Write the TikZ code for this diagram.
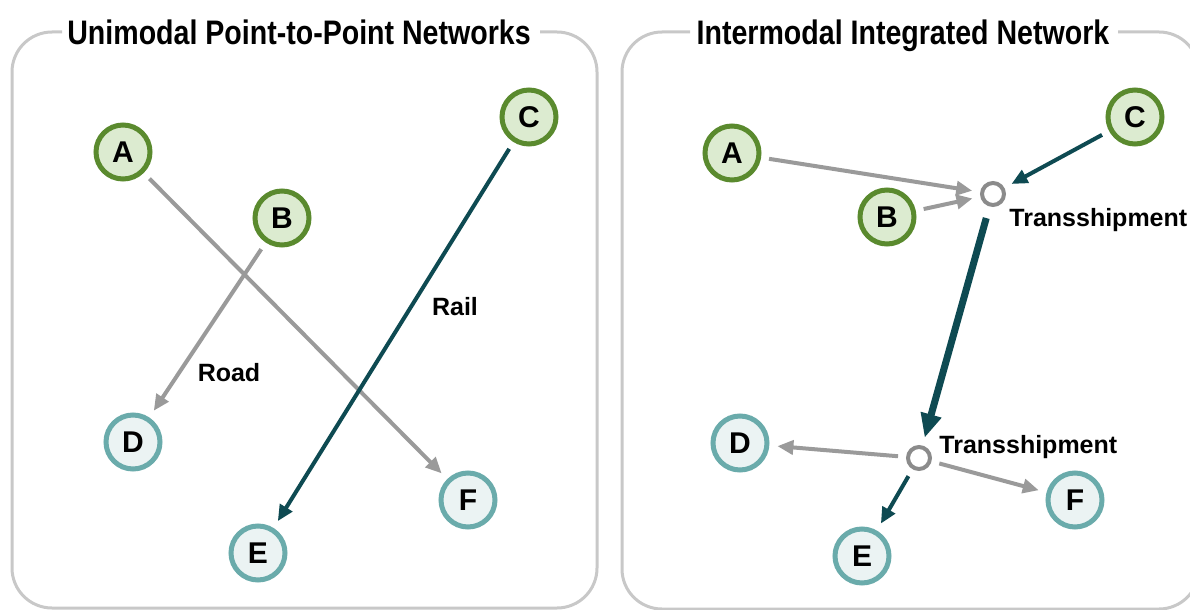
\documentclass[tikz,border=0pt]{standalone}
\usepackage{fontspec}
\setmainfont{Liberation Sans}
\newfontfamily\ttlfont{Liberation Sans}[FakeStretch=0.84]
\usetikzlibrary{arrows.meta}
\definecolor{grn}{HTML}{5A8A2E}
\definecolor{grnfill}{HTML}{DCEBD0}
\definecolor{tl}{HTML}{6AABAB}
\definecolor{tlfill}{HTML}{EBF3F3}
\definecolor{dk}{HTML}{0E4A52}
\definecolor{gl}{HTML}{9A9A9A}
\definecolor{frame}{HTML}{C8C8C8}
\tikzset{
  src/.style={circle,draw=grn,fill=grnfill,line width=2.5pt,minimum size=27pt,inner sep=0pt,font=\bfseries\fontsize{15}{16}\selectfont},
  dst/.style={circle,draw=tl,fill=tlfill,line width=2.5pt,minimum size=27pt,inner sep=0pt,font=\bfseries\fontsize{15}{16}\selectfont},
  hub/.style={circle,draw=gl!90!black,fill=white,line width=2pt,minimum size=11pt,inner sep=0pt},
  road/.style={draw=gl,line width=2pt,-{Triangle[length=8pt,width=7pt]},shorten <=4pt,shorten >=4pt},
  rail/.style={draw=dk,line width=2pt,-{Triangle[length=8pt,width=7pt]},shorten <=4pt,shorten >=4pt},
  bigrail/.style={draw=dk,line width=3.5pt,-{Triangle[length=12pt,width=10pt]},shorten <=6pt,shorten >=4pt},
  panel/.style={draw=frame,line width=1.5pt},
  ttl/.style={font=\ttlfont\bfseries\fontsize{17}{18}\selectfont,inner sep=0pt,anchor=base},
  lbl/.style={font=\bfseries\fontsize{12.5}{14}\selectfont,inner sep=0pt}
}
\begin{document}
\begin{tikzpicture}[x=0.5pt,y=-0.5pt]
\useasboundingbox[fill=white] (0,0) rectangle (1190,610);
\clip (0,0) rectangle (1190,610);
% panels
\draw[panel,rounded corners=20pt] (62,32) -- (12,32) -- (12,608) -- (597,608) -- (597,32) -- (540,32);
\draw[panel,rounded corners=20pt] (690,32) -- (622,32) -- (622,609) -- (1199,609) -- (1199,32) -- (1118,32);
\node[ttl] (t1) at (299,45) {Unimodal Point-to-Point Networks};
\node[ttl] (t2) at (903,45) {Intermodal Integrated Network};
% left panel
\node[src] (LA) at (123,152) {A};
\node[src] (LB) at (282,218) {B};
\node[src] (LC) at (529,117) {C};
\node[dst] (LD) at (133,442) {D};
\node[dst] (LE) at (258,553) {E};
\node[dst] (LF) at (468,500) {F};
\draw[road] (LA) -- (LF);
\draw[road] (LB) -- (LD);
\draw[rail] (LC) -- (LE);
\node[lbl] (road) at (229,373) {Road};
\node[lbl] (railtxt) at (455,307) {Rail};
% right panel
\node[src] (RA) at (732,153) {A};
\node[src] (RB) at (887,217) {B};
\node[src] (RC) at (1135,117) {C};
\node[dst] (RD) at (740,443) {D};
\node[dst] (RE) at (862,556) {E};
\node[dst] (RF) at (1075,500) {F};
\node[hub] (T1) at (993,194) {};
\node[hub] (T2) at (919,458) {};
\node[lbl,anchor=west] (T1l) at (1009,220) {Transshipment};
\node[lbl,anchor=west] (T2l) at (939,447) {Transshipment};
\draw[road,shorten >=4pt] (RA) -- (T1);
\draw[road,shorten >=4pt] (RB) -- (T1);
\draw[rail,shorten >=4pt] (RC) -- (T1);
\draw[bigrail] (T1) -- (T2);
\draw[road,shorten <=4pt] (T2) -- (RD);
\draw[rail,shorten <=4pt] (T2) -- (RE);
\draw[road,shorten <=4pt] (T2) -- (RF);
\end{tikzpicture}
\end{document}
